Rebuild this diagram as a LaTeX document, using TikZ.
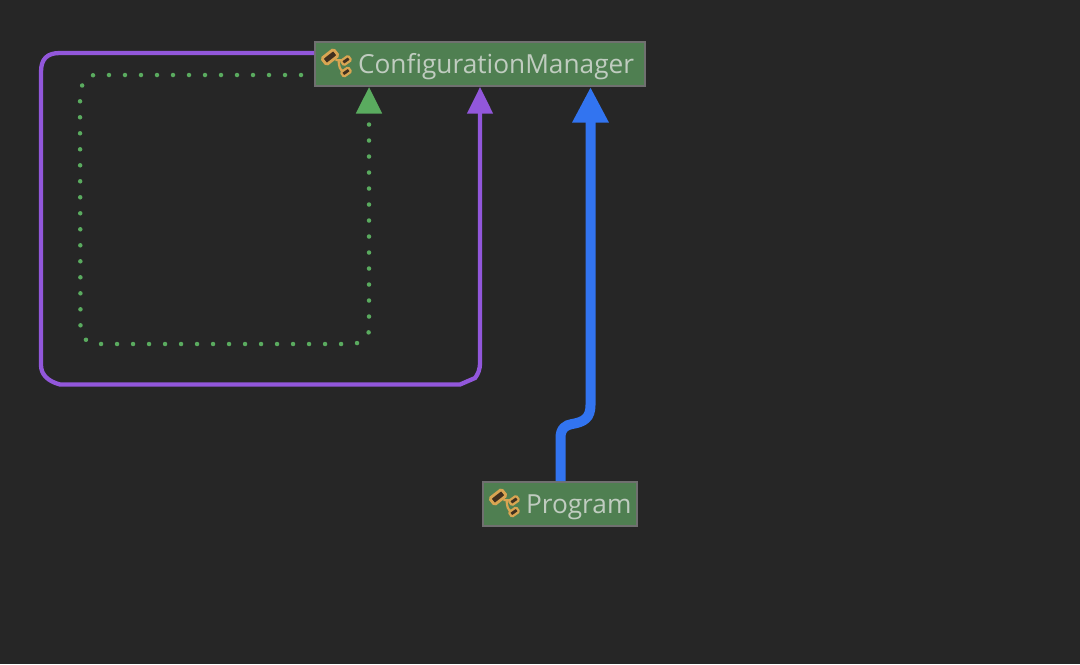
\documentclass[tikz,border=0pt]{standalone}
\usepackage{fontspec}
\setmainfont{Open Sans}
\usetikzlibrary{arrows.meta}
\definecolor{bgdark}{HTML}{262626}
\definecolor{boxgreen}{HTML}{4F7F51}
\definecolor{boxedge}{HTML}{707070}
\definecolor{labelgrey}{HTML}{C0CCC0}
\definecolor{iconorange}{HTML}{D9A552}
\definecolor{icondark}{HTML}{40301F}
\definecolor{linkpurple}{HTML}{9257DB}
\definecolor{linkgreen}{HTML}{5AAB5F}
\definecolor{linkblue}{HTML}{3274F0}
\tikzset{
    classbox/.style={draw=boxedge, fill=boxgreen, line width=2*0.01cm, minimum height=0.44cm, inner xsep=0pt, inner ysep=0pt, text height=0.31cm, text depth=0.13cm, align=left, text=labelgrey, font=\fontsize{7.47pt}{9pt}\selectfont},
    purplelink/.style={draw=linkpurple, line width=0.043cm, -{Triangle[length=0.265cm, width=0.25cm]}},
    dotlink/.style={draw=linkgreen, line width=0.045cm, line cap=round, dash pattern=on 0pt off 0.16cm, dash phase=0.03cm, -{Triangle[length=0.265cm, width=0.25cm]}},
    bluelink/.style={draw=linkblue, line width=0.1cm, -{Triangle[length=0.355cm, width=0.34cm]}},
    classicon/.pic={
        \draw[draw=iconorange, line width=0.022cm] (0.215,0.04) -- (0.29,0.035);
        \draw[draw=iconorange, line width=0.022cm] (0.245,0.04) .. controls (0.25,-0.03) and (0.26,-0.06) .. (0.29,-0.07);
        \draw[draw=iconorange, fill=icondark, line width=0.028cm, rounded corners=0.015cm, rotate around={38:(0.16,0.07)}] (0.085,0.03) rectangle (0.235,0.11);
        \draw[draw=iconorange, fill=icondark, line width=0.022cm, rounded corners=0.012cm, rotate around={35:(0.32,0.035)}] (0.275,0.008) rectangle (0.365,0.062);
        \draw[draw=iconorange, fill=icondark, line width=0.022cm, rounded corners=0.012cm, rotate around={35:(0.32,-0.08)}] (0.275,-0.107) rectangle (0.365,-0.053);
    }
}
\begin{document}
\begin{tikzpicture}
    \fill[bgdark] (0,0) rectangle (10.8,-6.64);
    \useasboundingbox (0,0) rectangle (10.8,-6.64);

    % Draw the two class boxes
    \node[classbox, text width=3.3cm] (cfgmgr) at (4.8,-0.64) {\hspace*{0.43cm}ConfigurationManager};
    \node[classbox, text width=1.54cm] (program) at (5.6,-5.04) {\hspace*{0.43cm}Program};

    % Draw the icons inside the boxes
    \pic at (cfgmgr.west) {classicon};
    \pic at (program.west) {classicon};

    % Draw the self loop around the diagram
    \draw[purplelink] ([yshift=0.11cm]cfgmgr.west) -- (0.6,-0.53) .. controls (0.47,-0.53) and (0.41,-0.59) .. (0.41,-0.72) -- (0.41,-3.65) .. controls (0.41,-3.74) and (0.47,-3.81) .. (0.6,-3.845) -- (4.6,-3.845) -- (4.75,-3.78) .. controls (4.78,-3.74) and (4.80,-3.7) .. (4.80,-3.62) -- (4.80,-1.2) -- (4.80,0 |- cfgmgr.south);

    % Draw the dotted self loop inside it
    \draw[dotlink] ([yshift=-0.11cm]cfgmgr.west) -- (0.95,-0.75) .. controls (0.86,-0.755) and (0.805,-0.8) .. (0.80,-1.02) -- (0.805,-3.26) .. controls (0.81,-3.36) and (0.84,-3.44) .. (1.02,-3.44) -- (3.42,-3.44) -- (3.58,-3.43) -- (3.69,-3.32) -- (3.69,-1.3) -- (3.69,0 |- cfgmgr.south);

    % Draw the thick link between the boxes
    \draw[bluelink] (5.605,0 |- program.north) -- (5.605,-4.38) .. controls (5.605,-4.28) and (5.66,-4.25) .. (5.72,-4.24) .. controls (5.84,-4.22) and (5.905,-4.18) .. (5.905,-4.05) -- (5.905,-1.5) -- (5.905,0 |- cfgmgr.south);
\end{tikzpicture}
\end{document}
